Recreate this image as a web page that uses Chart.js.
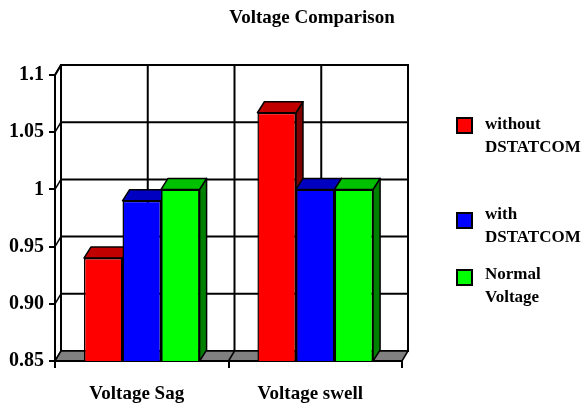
<!DOCTYPE html>
<html>
<head>
<meta charset="utf-8">
<title>Voltage Comparison</title>
<script src="https://cdn.jsdelivr.net/npm/chart.js@4.4.1/dist/chart.umd.min.js"></script>
<style>
  html, body { margin: 0; padding: 0; background: #ffffff; }
  #wrap { width: 587px; height: 412px; }
</style>
</head>
<body>
<div id="wrap"><canvas id="chart" width="587" height="412"></canvas></div>
<script>
// ---- data ----
const categories = ['Voltage Sag', 'Voltage swell'];
const withoutDstatcom = [0.94, 1.067];
const withDstatcom = [0.99, 1.0];
const normalVoltage = [1.0, 1.0];
const seriesNames = [['without', 'DSTATCOM'], ['with', 'DSTATCOM'], ['Normal', 'Voltage']];
const tickValues = [0.85, 0.90, 0.95, 1.0, 1.05, 1.1];
const tickLabels = ['0.85', '0.90', '0.95', '1', '1.05', '1.1'];
const chartTitle = 'Voltage Comparison';

// ---- styling ----
const SERIF = "'Liberation Serif', 'Times New Roman', serif";
const FACES = [
  { front: '#FF0000', top: '#C00000', side: '#800000' },
  { front: '#0000FF', top: '#0000C0', side: '#000080' },
  { front: '#00FF00', top: '#00C000', side: '#008000' }
];
const BAR_DEPTH = { dx: 7, dy: 11 };
const WALL_DEPTH = { dx: 6, dy: 10 };
const LEGEND = { boxX: 457, boxSize: 15, textX: 485, boxTops: [118, 213, 270], textMids: [125, 215, 275], lineGap: 23 };

function poly(ctx, pts, fill, stroke, lw) {
  ctx.beginPath();
  ctx.moveTo(pts[0][0], pts[0][1]);
  for (let i = 1; i < pts.length; i++) ctx.lineTo(pts[i][0], pts[i][1]);
  ctx.closePath();
  if (fill) { ctx.fillStyle = fill; ctx.fill(); }
  if (stroke) { ctx.strokeStyle = stroke; ctx.lineWidth = lw || 1; ctx.stroke(); }
}

function line(ctx, x1, y1, x2, y2, lw) {
  ctx.beginPath();
  ctx.moveTo(x1, y1);
  ctx.lineTo(x2, y2);
  ctx.strokeStyle = '#000';
  ctx.lineWidth = lw || 2;
  ctx.stroke();
}

// Back wall, side wall, floor and gridlines of the 3D box
const wallsPlugin = {
  id: 'walls3d',
  beforeDraw(chart) {
    const ctx = chart.ctx;
    const { left, right, top, bottom } = chart.chartArea;
    const { dx, dy } = WALL_DEPTH;
    const ys = chart.scales.y;
    const xs = chart.scales.x;
    ctx.save();
    ctx.fillStyle = '#fff';
    ctx.fillRect(0, 0, chart.width, chart.height);

    // back wall
    poly(ctx, [[left + dx, top - dy], [right + dx, top - dy], [right + dx, bottom - dy], [left + dx, bottom - dy]], '#fff', '#000', 2);

    // horizontal gridlines on the back wall + their run across the left wall
    tickValues.forEach(v => {
      const y = ys.getPixelForValue(v);
      line(ctx, left, y, left + dx, y - dy, 1.5);
      line(ctx, left + dx, y - dy, right + dx, y - dy, 2);
    });

    // vertical gridlines: category centres and the boundary between categories
    const centres = categories.map((_, i) => xs.getPixelForValue(i));
    const verticals = [];
    centres.forEach((c, i) => {
      verticals.push(c);
      if (i < centres.length - 1) verticals.push((c + centres[i + 1]) / 2);
    });
    verticals.forEach(x => line(ctx, x + dx, top - dy, x + dx, bottom - dy, 2));

    // floor
    poly(ctx, [[left, bottom], [right, bottom], [right + dx, bottom - dy], [left + dx, bottom - dy]], '#808080', '#000', 1.5);
    for (let i = 0; i < centres.length - 1; i++) {
      const bx = (centres[i] + centres[i + 1]) / 2;
      line(ctx, bx, bottom, bx + dx, bottom - dy, 1.5);
    }
    // top-left corner edge
    line(ctx, left, top, left + dx, top - dy, 2);
    ctx.restore();
  }
};

// Top and side faces of each column, drawn behind the front faces
const columnsPlugin = {
  id: 'columns3d',
  beforeDatasetsDraw(chart) {
    const ctx = chart.ctx;
    const { dx, dy } = BAR_DEPTH;
    const floorY = chart.chartArea.bottom;
    ctx.save();
    ctx.lineJoin = 'round';
    categories.forEach((_, idx) => {
      chart.data.datasets.forEach((ds, di) => {
        const el = chart.getDatasetMeta(di).data[idx];
        if (!el) return;
        const p = el.getProps(['x', 'y', 'base', 'width'], true);
        const l = p.x - p.width / 2, r = p.x + p.width / 2;
        const t = p.y, b = Math.min(p.base, floorY);
        poly(ctx, [[r, t], [r + dx, t - dy], [r + dx, b - dy], [r, b]], FACES[di].side, '#000', 1.5);
        poly(ctx, [[l, t], [l + dx, t - dy], [r + dx, t - dy], [r, t]], FACES[di].top, '#000', 1.5);
      });
    });
    ctx.restore();
  }
};

// Title and legend
const textPlugin = {
  id: 'titleLegend',
  afterDraw(chart) {
    const ctx = chart.ctx;
    ctx.save();
    ctx.fillStyle = '#000';
    ctx.textBaseline = 'middle';
    ctx.textAlign = 'center';
    ctx.font = 'bold 19px ' + SERIF;
    ctx.fillText(chartTitle, 312, 18);

    ctx.textAlign = 'left';
    ctx.font = 'bold 17px ' + SERIF;
    seriesNames.forEach((lines, i) => {
      const by = LEGEND.boxTops[i];
      ctx.fillStyle = FACES[i].front;
      ctx.fillRect(LEGEND.boxX, by, LEGEND.boxSize, LEGEND.boxSize);
      ctx.strokeStyle = '#000';
      ctx.lineWidth = 2;
      ctx.strokeRect(LEGEND.boxX, by, LEGEND.boxSize, LEGEND.boxSize);
      ctx.fillStyle = '#000';
      lines.forEach((txt, k) => ctx.fillText(txt, LEGEND.textX, LEGEND.textMids[i] + k * LEGEND.lineGap));
    });
    ctx.restore();
  }
};

const seriesValues = [withoutDstatcom, withDstatcom, normalVoltage];

new Chart(document.getElementById('chart'), {
  type: 'bar',
  data: {
    labels: categories,
    datasets: seriesValues.map((vals, i) => ({
      label: seriesNames[i].join(' '),
      data: vals,
      backgroundColor: FACES[i].front,
      borderColor: '#000',
      borderWidth: 1.5,
      borderSkipped: false,
      categoryPercentage: 3 / 4.5,
      barPercentage: 1.0
    }))
  },
  options: {
    responsive: false,
    animation: false,
    events: [],
    layout: { padding: { left: 0, right: 185, top: 75, bottom: 0 } },
    plugins: {
      legend: { display: false },
      title: { display: false },
      tooltip: { enabled: false }
    },
    scales: {
      x: {
        offset: true,
        grid: { display: true, drawOnChartArea: false, drawTicks: true, tickLength: 7, color: '#000', lineWidth: 2, offset: true },
        border: { display: true, color: '#000', width: 2 },
        ticks: { color: '#000', font: { family: SERIF, size: 19, weight: 'bold' }, padding: 15, labelOffset: -5, maxRotation: 0 },
        afterFit(scale) { scale.height = 51; }
      },
      y: {
        min: tickValues[0],
        max: tickValues[tickValues.length - 1],
        afterBuildTicks(scale) { scale.ticks = tickValues.map(v => ({ value: v })); },
        grid: { display: true, drawOnChartArea: false, drawTicks: true, tickLength: 6, color: '#000', lineWidth: 2 },
        border: { display: true, color: '#000', width: 2 },
        ticks: {
          color: '#000',
          font: { family: SERIF, size: 20, weight: 'bold' },
          padding: 5,
          callback(value, index) { return tickLabels[index]; }
        },
        afterFit(scale) { scale.width = 55; }
      }
    }
  },
  plugins: [wallsPlugin, columnsPlugin, textPlugin]
});
</script>
</body>
</html>
